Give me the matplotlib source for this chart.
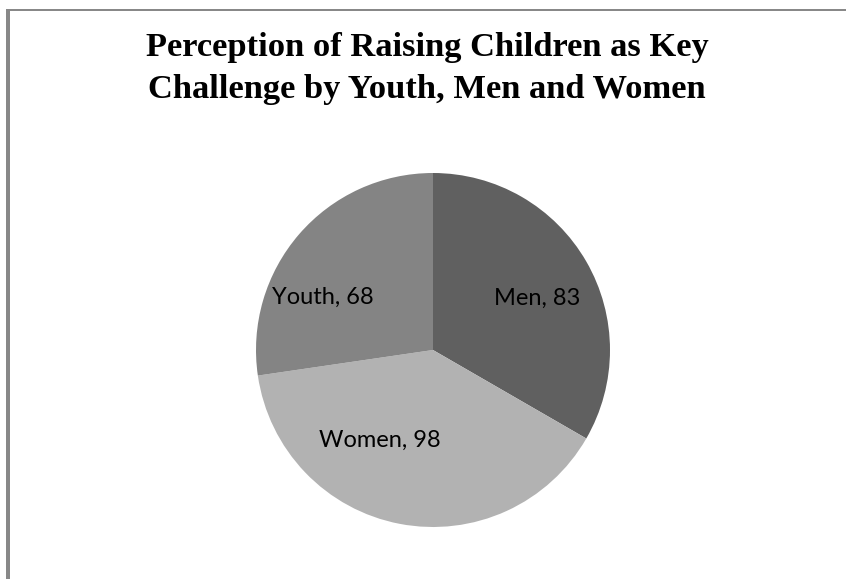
import matplotlib
matplotlib.use("Agg")
import matplotlib.pyplot as plt
from matplotlib.patches import Rectangle

groups = ["Men", "Women", "Youth"]
counts = [83, 98, 68]
shades = ["#606060", "#b2b2b2", "#848484"]

# label anchor (x, y) relative to the pie centre, in units of the radius
label_pos = [(0.59, 0.29), (-0.30, -0.51), (-0.62, 0.30)]

W, H = 846, 579
fig = plt.figure(figsize=(W / 100, H / 100), dpi=100)
fig.patch.set_facecolor("white")

# frame lines on the left and top
fig.add_artist(Rectangle((6 / W, 0), 4 / W, 1 - 9 / H, transform=fig.transFigure,
                         color="#888888", lw=0))
fig.add_artist(Rectangle((6 / W, 1 - 11 / H), 1, 2 / H, transform=fig.transFigure,
                         color="#888888", lw=0))

fig.text(427 / W, 1 - 32 / H,
         "Perception of Raising Children as Key\nChallenge by Youth, Men and Women",
         ha="center", va="top", fontsize=24.8, fontweight="bold",
         family="Liberation Serif", linespacing=1.45)

cx, cy, r = 433, 350, 177
ax = fig.add_axes([(cx - r) / W, (H - cy - r) / H, 2 * r / W, 2 * r / H])
ax.pie(counts, colors=shades, startangle=90, counterclock=False,
       wedgeprops=dict(linewidth=0))
ax.set_xlim(-1, 1)
ax.set_ylim(-1, 1)
ax.set_aspect("equal")
ax.axis("off")

for name, val, (lx, ly) in zip(groups, counts, label_pos):
    ax.text(lx, ly, f"{name}, {val}", ha="center", va="center",
            fontsize=17, family="Lato", color="black")

fig.savefig("out.png", dpi=100)
